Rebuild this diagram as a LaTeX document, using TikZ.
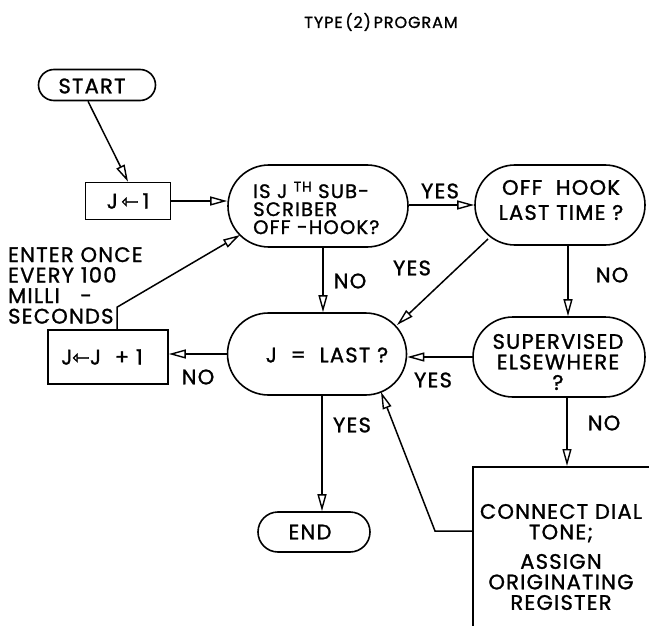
\documentclass[tikz,border=0pt]{standalone}
\usepackage{fontspec}
\setmainfont{Poppins}[LetterSpace=6, FakeBold=1.3]
\newfontfamily\arrowfont{DejaVu Sans}[FakeBold=1.3]
\usetikzlibrary{arrows.meta,shapes.misc,calc}
\tikzset{
  every node/.style={font=\fontsize{21}{20.5}\selectfont, inner sep=0pt},
  stad/.style={draw, rounded rectangle, line width=1.6pt},
  box/.style={draw, rectangle, line width=1.6pt},
  conn/.style={line width=1.5pt, -{Triangle[open, length=17pt, width=9pt, line width=1.4pt]}},
  lbl/.style={font=\fontsize{21}{20.5}\selectfont},
}
\newcommand{\lar}{{\arrowfont ⇽}}
\begin{document}
\begin{tikzpicture}[x=1pt, y=-1pt]
\clip (0,0) rectangle (649,626);
\node (title) at (381,22) {\fontsize{16}{16}\selectfont TYPE\,(2)\,PROGRAM};

\node[stad, minimum width=117pt, minimum height=31pt] (start) at (97,85) {};
\node (starttext) at (92,86) {START};
\node[box, minimum width=85pt, minimum height=37pt] (j1) at (128,201) {J\,\lar\,1};
\node[stad, minimum width=180pt, minimum height=82pt] (isj) at (318,206) {};
\node[align=left, anchor=west, font=\fontsize{19.5}{18}\selectfont] (isjtext) at (253,208)
  {IS J \raisebox{0.6ex}{\fontsize{14}{14}\selectfont TH} SUB-\\ SCRIBER\\ OFF -HOOK?};
\node[stad, minimum width=170pt, minimum height=80pt] (offhook) at (560,205) {};
\node[align=center] (offtext) at (561,200) {OFF\ \ HOOK\\[4.5pt] LAST TIME ?};
\node[stad, minimum width=179pt, minimum height=82pt] (jlast) at (317,354) {};
\node (jlasttext) at (327,355) {J \ = \ LAST ?};
\node[stad, minimum width=172pt, minimum height=80pt] (sup) at (559,357) {};
\node[align=center] (suptext) at (558,362) {SUPERVISED\\ ELSEWHERE\\ ?};
\node[box, minimum width=120pt, minimum height=54pt] (jjp) at (108,357) {};
\node (jjptext) at (102,357) {J\lar J \ + 1};
\node[stad, minimum width=112pt, minimum height=40pt] (end) at (314,532) {};
\node (endtext) at (310,532) {END};
\node[box, anchor=north west, minimum width=200pt, minimum height=180pt] (dial) at (472,466) {};
\node[align=center] (dialtext) at (561,557)
  {CONNECT DIAL\\ TONE;\\[9pt] ASSIGN\\ ORIGINATING\\ REGISTER};

\node[align=left, anchor=north west] (note) at (8,247)
  {ENTER\ ONCE\\ EVERY\ 100\\ MILLI \ \ -\\ SECONDS};

% helper coordinates
\coordinate (a1) at ($(isj.south)+(5,0)$);
\coordinate (a2) at ($(offhook.south)+(8,0)$);
\coordinate (a3) at ($(jlast.south)+(5,0)$);
\coordinate (a4) at ($(sup.south)+(8,0)$);
\coordinate (a5) at ($(start.south)+(-9,0)$);
\coordinate (a6) at ($(jjp.north)+(9,0)$);
\coordinate (b1) at (435,531);

% connectors
\draw[conn] (a5) -- (j1.north);
\draw[conn] (j1.east) -- (j1.east -| isj.west);
\draw[conn] (isj.east |- offhook.west) -- (offhook.west);
\draw[conn] (a1) -- (a1 |- jlast.north);
\draw[conn] ($(offhook.center)+(-72,34)$) -- ($(jlast.center)+(80,-29)$);
\draw[conn] (a2) -- (a2 |- sup.north);
\draw[conn] (sup.west) -- (sup.west -| jlast.east);
\draw[conn] (jlast.west) -- (jlast.west -| jjp.east);
\draw[conn] (a6) -- ++(0,-22) -- ($(isj.center)+(-78,29)$);
\draw[conn] (a3) -- (a3 |- end.north);
\draw[conn] (a4) -- (a4 |- dial.north);
\draw[conn] (dial.west |- b1) -- (b1) -- ($(jlast.center)+(64,38)$);

% labels
\node[lbl] (l1) at (440,191) {YES};
\node[lbl] (l2) at (350,281) {NO};
\node[lbl] (l3) at (412,268) {YES};
\node[lbl] (l4) at (612,275) {NO};
\node[lbl] (l5) at (433,380) {YES};
\node[lbl] (l6) at (198,377) {NO};
\node[lbl] (l7) at (352,425) {YES};
\node[lbl] (l8) at (604,423) {NO};
\end{tikzpicture}
\end{document}
